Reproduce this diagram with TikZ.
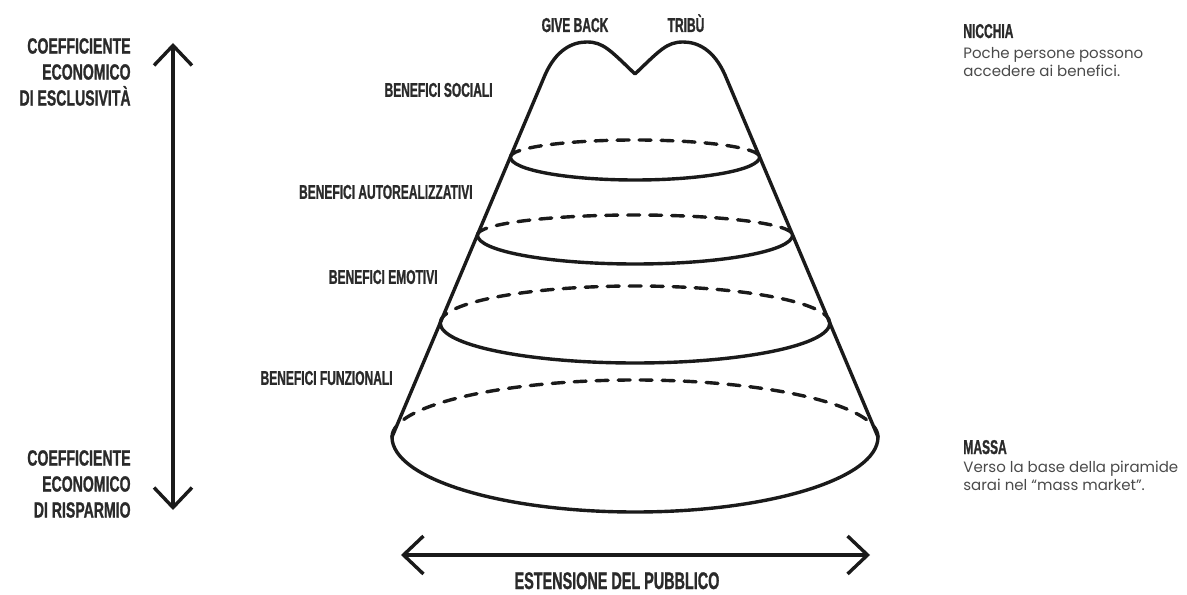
\documentclass[tikz,border=0pt]{standalone}
\usepackage{fontspec}
\usetikzlibrary{arrows.meta}
\setmainfont{Poppins}
\newfontfamily\headfont[FakeStretch=0.6,FakeBold=1]{Liberation Sans}
\newfontfamily\axisfont[FakeStretch=0.64,FakeBold=1]{Liberation Sans}
\definecolor{ink}{HTML}{1A1A1A}
\definecolor{headgray}{HTML}{2A2A2A}
\definecolor{bodygray}{HTML}{4A4A4A}

\begin{document}
\begin{tikzpicture}[x=0.5pt, y=0.5pt, line join=round, line cap=round,
    >={Straight Barb[length=10pt,width=19pt]},
    cone/.style={draw=ink, line width=1.7pt},
    hidden/.style={cone, dash pattern=on 6pt off 5pt},
    caps/.style={font=\headfont\bfseries\fontsize{10}{11}\selectfont, text=headgray, inner sep=0pt},
    axislbl/.style={font=\axisfont\bfseries\fontsize{11}{13}\selectfont, text=headgray, inner sep=0pt, align=right},
    bigcaps/.style={font=\headfont\bfseries\fontsize{12}{13}\selectfont, text=headgray, inner sep=0pt},
    note/.style={font=\fontsize{7.5}{9}\selectfont, text=bodygray, inner sep=0pt, align=left}]
\useasboundingbox (0,0) rectangle (1187,594);

% axes
\coordinate (vtop) at (173,551);
\coordinate (vbot) at (173,84);
\draw[cone, <->] (vbot) -- (vtop);
\coordinate (hleft) at (401,39);
\coordinate (hright) at (870,39);
\draw[cone, <->] (hleft) -- (hright);

% cone outline with the two tops
\draw[cone] (392,157) -- (545,519)
  .. controls (556,544) and (572,552) .. (587,552)
  .. controls (603,552) and (610,544) .. (635,520)
  .. controls (660,544) and (667,552) .. (683,552)
  .. controls (698,552) and (714,544) .. (725,519)
  -- (878,157);

% rings: centre y / x radius / back radius / front radius
\foreach \yc/\rx/\rt/\rb in {437/124.6/17/23, 359/157.6/20/29, 271/194.8/37/40, 157/243/57/75}{
  \draw[hidden] (635-\rx,\yc) arc[start angle=180, end angle=0, x radius=\rx, y radius=\rt];
  \draw[cone] (635-\rx,\yc) arc[start angle=180, end angle=360, x radius=\rx, y radius=\rb];
}

% labels
\node[axislbl, anchor=east] (esclusivita) at (131,522) {COEFFICIENTE\\ECONOMICO\\DI ESCLUSIVITÀ};
\node[axislbl, anchor=east] (risparmio) at (131,110) {COEFFICIENTE\\ECONOMICO\\DI RISPARMIO};
\node[caps, anchor=base] (giveback) at (575,562) {GIVE BACK};
\node[caps, anchor=base] (tribu) at (686,562) {TRIBÙ};
\node[caps, anchor=east] (sociali) at (493,504) {BENEFICI SOCIALI};
\node[caps, anchor=east] (autoreal) at (473,402) {BENEFICI AUTOREALIZZATIVI};
\node[caps, anchor=east] (emotivi) at (438,317) {BENEFICI EMOTIVI};
\node[caps, anchor=east] (funzionali) at (393,216) {BENEFICI FUNZIONALI};
\node[caps, anchor=base west] (nicchia) at (963,556) {NICCHIA};
\node[note, anchor=north west] (nicchiatxt) at (963,547) {Poche persone possono\\accedere ai benefici.};
\node[caps, anchor=base west] (massa) at (963,140) {MASSA};
\node[note, anchor=north west] (massatxt) at (963,133) {Verso la base della piramide\\sarai nel “mass market”.};
\node[bigcaps, anchor=base] (pubblico) at (617,5) {ESTENSIONE DEL PUBBLICO};
\end{tikzpicture}
\end{document}
